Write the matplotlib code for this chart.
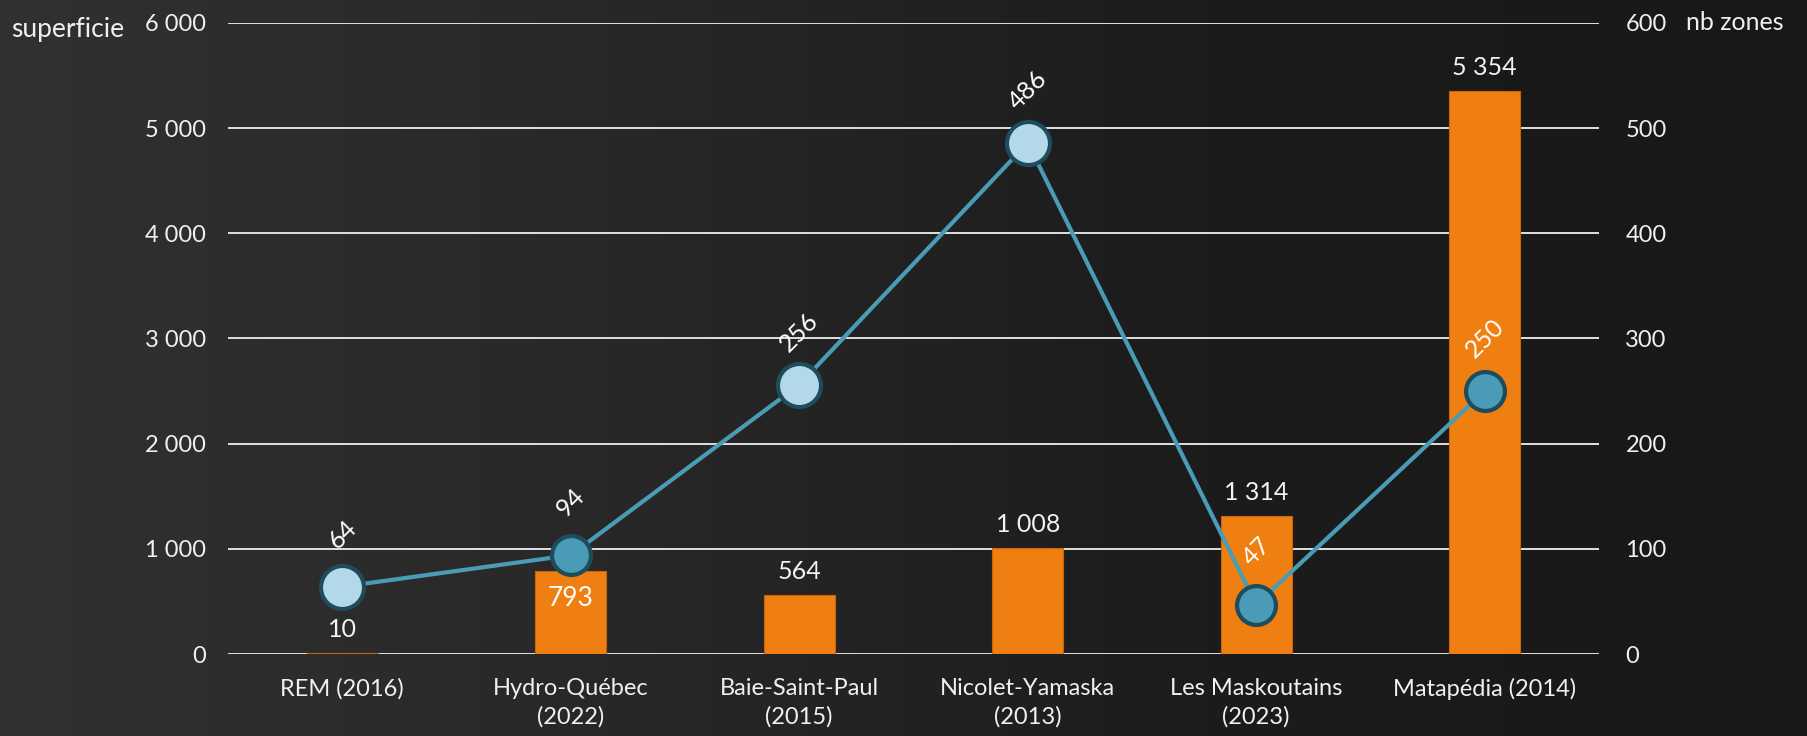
import numpy as np
import matplotlib
matplotlib.use("Agg")
from matplotlib import pyplot as plt
from matplotlib.colors import LinearSegmentedColormap

plt.rcParams['font.family'] = ['Lato', 'DejaVu Sans']

categories = ['REM (2016)', 'Hydro-Québec\n(2022)', 'Baie-Saint-Paul\n(2015)',
              'Nicolet-Yamaska\n(2013)', 'Les Maskoutains\n(2023)', 'Matapédia (2014)']
superficie = [10, 793, 564, 1008, 1314, 5354]
nb_zones = [64, 94, 256, 486, 47, 250]
light_points = [True, False, True, True, False, False]
bar_label_inside = [False, True, False, False, False, False]


def fmt(v):
    return f"{v:,}".replace(",", " ")


fig = plt.figure(figsize=(18.08, 7.36), dpi=100)

# dark background, a bit lighter on the left like the stone wall
bg = fig.add_axes([0, 0, 1, 1], zorder=-10)
cmap = LinearSegmentedColormap.from_list('bg', ['#313131', '#282828', '#1c1c1c', '#181818'])
bg.imshow(np.linspace(0, 1, 256).reshape(1, -1), aspect='auto', cmap=cmap, extent=[0, 1, 0, 1])
bg.axis('off')

ax = fig.add_axes([0.1261, 0.1114, 0.7583, 0.8574])
ax.set_facecolor('none')
ax2 = ax.twinx()

x = np.arange(len(categories))
grid_col = '#e0e0e0'

ax.set_ylim(0, 6000)
ax.set_xlim(-0.5, len(categories) - 0.5)
ax.set_yticks(range(0, 6001, 1000))
ax.set_yticklabels([fmt(v) for v in range(0, 6001, 1000)])
ax.yaxis.grid(True, color=grid_col, linewidth=1.4)
ax.set_axisbelow(True)

ax.bar(x, superficie, width=0.31, color='#ef7f11', edgecolor='#c8650a', linewidth=0.8, zorder=2)
for xi, v, inside in zip(x, superficie, bar_label_inside):
    if inside:
        ax.annotate(fmt(v), (xi, v), xytext=(0, -20), textcoords='offset points',
                    ha='center', va='center', color='white', fontsize=19)
    else:
        ax.annotate(fmt(v), (xi, v), xytext=(0, 17), textcoords='offset points',
                    ha='center', va='center', color='#f2f2f2', fontsize=18)

ax2.set_ylim(0, 600)
ax2.set_yticks(range(0, 601, 100))
ax2.plot(x, nb_zones, color='#4a9bb6', linewidth=3, zorder=3)
for xi, v, light in zip(x, nb_zones, light_points):
    ax2.plot(xi, v, 'o', markersize=31 if light else 28,
             markerfacecolor='#b3d8e8' if light else '#4a9bb6',
             markeredgecolor='#1e4c5c', markeredgewidth=3, zorder=4)
    ax2.annotate(str(v), (xi, v), xytext=(0, 38), textcoords='offset points',
                 ha='center', va='center', rotation=45, color='white', fontsize=18)

for a in (ax, ax2):
    for s in a.spines.values():
        s.set_visible(False)
    a.tick_params(length=0, labelsize=17, colors='#f0f0f0')
ax.tick_params(axis='y', pad=16)
ax2.tick_params(axis='y', pad=19)

ax.set_xticks(x)
ax.set_xticklabels(categories, fontsize=17, color='#f0f0f0', linespacing=1.4)
ax.tick_params(axis='x', pad=17)

fig.text(0.0064, 0.96, 'superficie', fontsize=19, color='#f0f0f0', ha='left', va='center')
fig.text(0.9325, 0.969, 'nb zones', fontsize=18, color='#f0f0f0', ha='left', va='center')

fig.savefig('out.png', dpi=100)
